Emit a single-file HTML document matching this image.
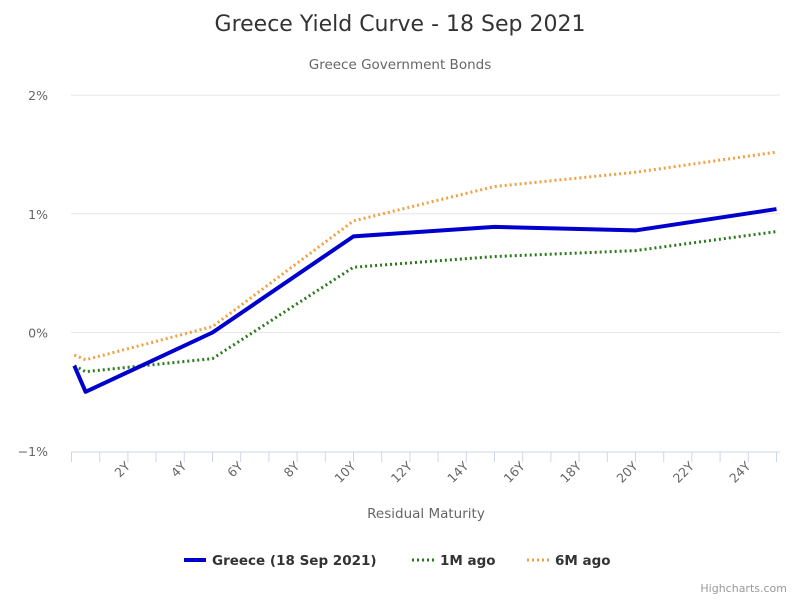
<!DOCTYPE html>
<html><head><meta charset="utf-8"><style>
body{margin:0;background:#fff;font-family:"DejaVu Sans",sans-serif;}
svg text{font-family:"DejaVu Sans",sans-serif;}
</style></head><body>
<svg id="chart" width="800" height="600">
<rect width="800" height="600" fill="#fff"/>
<text x="400" y="31" text-anchor="middle" font-size="22" fill="#333">Greece Yield Curve - 18 Sep 2021</text>
<text x="400" y="69" text-anchor="middle" font-size="13.5" fill="#666">Greece Government Bonds</text>
<g id="grid"></g><g id="xaxis"></g><g id="series"></g>
<text x="426" y="518" text-anchor="middle" font-size="13.5" fill="#666">Residual Maturity</text>
<g>
<g><line x1="184" y1="560" x2="206" y2="560" stroke="#0000cc" stroke-width="4"/><text x="212" y="565" font-size="13.5" font-weight="bold" fill="#333">Greece (18 Sep 2021)</text></g>
<g><line x1="412" y1="560" x2="434" y2="560" stroke="#2a7a1a" stroke-width="3" stroke-dasharray="2,3"/><text x="440" y="565" font-size="13.5" font-weight="bold" fill="#333">1M ago</text></g>
<g><line x1="527" y1="560" x2="549" y2="560" stroke="#f0a040" stroke-width="3" stroke-dasharray="2,3"/><text x="555" y="565" font-size="13.5" font-weight="bold" fill="#333">6M ago</text></g>
</g>
<text x="787" y="592" text-anchor="end" font-size="11" fill="#999">Highcharts.com</text>
</svg>
<script>
const maturities=[0.1,0.5,5,10,15,20,25];
const greece=[-0.28,-0.5,0.0,0.81,0.89,0.86,1.04];
const oneMonth=[-0.28,-0.33,-0.22,0.55,0.64,0.69,0.85];
const sixMonth=[-0.19,-0.23,0.05,0.94,1.23,1.35,1.52];
const yTicks=[-1,0,1,2];
const yLabels=["−1%","0%","1%","2%"];
const xLabelYears=[2,4,6,8,10,12,14,16,18,20,22,24];
const NS="http://www.w3.org/2000/svg";
const X=v=>71.5+v*28.2;
const Y=v=>332.5-v*118.7;
function mk(tag,attrs,parent){const e=document.createElementNS(NS,tag);for(const k in attrs)e.setAttribute(k,attrs[k]);parent.appendChild(e);return e;}
const grid=document.getElementById('grid');
yTicks.forEach((t,i)=>{
  if(t>-1){const l=mk('line',{x1:71,x2:780,y1:Y(t),y2:Y(t),stroke:'#e6e6e6','stroke-width':1},grid);
  
  }
  const tx=mk('text',{x:48,y:Y(t)+5,'text-anchor':'end','font-size':12.5,fill:'#666'},grid);
  tx.textContent=yLabels[i];
  
  
});
const xa=document.getElementById('xaxis');
const ax=mk('line',{x1:71,x2:780,y1:452,y2:452,stroke:'#ccd6eb','stroke-width':1},xa);


for(let yr=0;yr<=25;yr++){
  const t=mk('line',{x1:X(yr),x2:X(yr),y1:452,y2:462,stroke:'#ccd6eb'},xa);
  
  
}
xLabelYears.forEach(yr=>{
  const x=X(yr)+3,y=467;
  const tx=mk('text',{x:x,y:y,'text-anchor':'end','font-size':12.5,fill:'#666',transform:`rotate(-45 ${x} ${y})`},xa);
  tx.textContent=yr+'Y';
  
  
});
const sg=document.getElementById('series');
function line(vals,color,w,dash,name){
  const pts=vals.map((v,i)=>X(maturities[i])+','+Y(v)).join(' ');
  const a={points:pts,fill:'none',stroke:color,'stroke-width':w,'stroke-linejoin':'round'};
  if(dash)a['stroke-dasharray']=dash;
  const p=mk('polyline',a,sg);
  
  
}
line(sixMonth,'#f0a040',3,'2,3','series-6m-ago');
line(oneMonth,'#2a7a1a',3,'2,3','series-1m-ago');
line(greece,'#0000cc',4,null,'series-greece');
</script>
</body></html>
